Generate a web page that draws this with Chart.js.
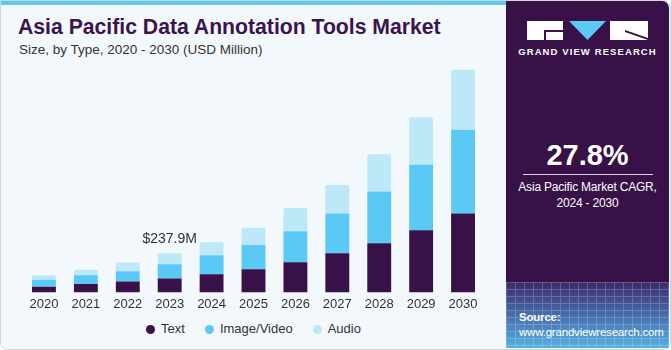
<!DOCTYPE html>
<html>
<head>
<meta charset="utf-8">
<script src="https://cdn.jsdelivr.net/npm/chart.js@4"></script>
<style>
  html, body { margin: 0; padding: 0; }
  body { width: 671px; height: 350px; overflow: hidden; background: #fff; font-family: "Liberation Sans", Arial, sans-serif; }
  .card { position: absolute; left: 0; top: 0; width: 669px; height: 348px; background: #f3f8fc; border: 1px solid #d4d7da; border-radius: 0 8px 8px 8px; overflow: hidden; }
  .strip { position: absolute; left: 0; top: 0; width: 506px; height: 4px; background: #5bc8f5; }
  .title { position: absolute; left: 17px; top: 14px; font-size: 21.2px; font-weight: bold; color: #3a1450; white-space: nowrap; }
  .subtitle { position: absolute; left: 18px; top: 41px; font-size: 13.5px; color: #333; white-space: nowrap; }
  .chartbox { position: absolute; left: 0; top: 57px; width: 500px; height: 262px; }
  .legend { position: absolute; left: 22px; width: 461px; top: 320px; display: flex; justify-content: center; font-size: 13px; color: #333; line-height: 16px; }
  .legend .item { display: flex; align-items: center; margin: 0 10px; }
  .legend .dot { width: 9px; height: 9px; border-radius: 50%; margin-right: 6px; }
  .panel { position: absolute; left: 506px; top: 1px; width: 163px; height: 347px; background: #371147; border-radius: 0 7px 0 0; overflow: hidden; }
  .panel .bottom { position: absolute; left: 0; bottom: 0; width: 100%; height: 66px; background: linear-gradient(#3b2a6a, #4a7ab8 60%, #56b0e0); }
  .grid { position: absolute; left: 0; bottom: 0; width: 100%; height: 66px; opacity: 0.25;
    background-image: linear-gradient(rgba(255,255,255,0.8) 1px, transparent 1px), linear-gradient(90deg, rgba(255,255,255,0.8) 1px, transparent 1px);
    background-size: 9px 7px; }
  .cagr { position: absolute; left: 0; width: 100%; top: 138px; text-align: center; color: #fff; font-size: 29px; font-weight: bold; }
  .rule { position: absolute; left: 17px; width: 130px; top: 173px; height: 1px; background: #d8cfe0; }
  .cagrtxt { position: absolute; left: 0; width: 100%; top: 178px; text-align: center; color: #fff; font-size: 12px; line-height: 16px; letter-spacing: -0.2px; }
  .logo { position: absolute; left: 21px; top: 20px; width: 121px; height: 19px; }
  .brand { position: absolute; left: 0; width: 100%; top: 45px; text-align: center; color: #fff; font-size: 9.5px; font-weight: bold; letter-spacing: 1.1px; }
  .source { position: absolute; left: 13px; top: 309px; color: #fff; font-size: 11.5px; line-height: 15px; letter-spacing: -0.2px; }
  .source b { font-weight: bold; }
</style>
</head>
<body>
<div class="card">
  <div class="strip"></div>
  <div class="title">Asia Pacific Data Annotation Tools Market</div>
  <div class="subtitle">Size, by Type, 2020 - 2030 (USD Million)</div>
  <div class="chartbox"><canvas id="marketChart" width="500" height="262"></canvas></div>
  <div class="legend" id="legend"></div>
</div>
<div class="panel">
  <svg class="logo" viewBox="0 0 121 19">
    <rect x="0" y="0" width="36" height="19" fill="#fff"/>
    <rect x="17" y="9" width="19" height="2" fill="#371147"/>
    <rect x="17" y="9" width="2" height="10" fill="#371147"/>
    <polygon points="42,0 79,0 60.5,19" fill="#5bc8f5"/>
    <rect x="83" y="0" width="38" height="19" fill="#fff"/>
    <polygon points="98,9 121,17 121,19 98,11" fill="#371147"/>
  </svg>
  <div class="brand">GRAND VIEW RESEARCH</div>
  <div class="cagr">27.8%</div>
  <div class="rule"></div>
  <div class="cagrtxt">Asia Pacific Market CAGR,<br>2024 - 2030</div>
  <div class="bottom"></div>
  <div class="grid"></div>
  <div class="source"><b>Source:</b><br>www.grandviewresearch.com</div>
</div>
<script>
(function() {
    "use strict"

    // values (USD Million)
    const years = ["2020", "2021", "2022", "2023", "2024", "2025", "2026", "2027", "2028", "2029", "2030"]
    const textValues = [34.3, 50.4, 66.5, 84.7, 110.9, 141.1, 183.5, 237.9, 298.4, 377.0, 479.8]
    const imageVideoValues = [42.3, 54.4, 62.5, 86.7, 114.9, 147.2, 187.5, 241.9, 314.5, 399.2, 508.1]
    const audioValues = [28.2, 32.3, 52.4, 66.5, 78.6, 104.8, 141.1, 173.4, 225.8, 288.3, 364.9]
    const seriesNames = ["Text", "Image/Video", "Audio"]
    const seriesColors = ["#371147", "#5bc9f5", "#bde8f8"]
    const labelYear = "2023"
    const labelText = "$237.9M"

    const totalLabel = {
        id: 'totalLabel',
        afterDatasetsDraw: (chart) => {
            const idx = years.indexOf(labelYear)
            const total = textValues[idx] + imageVideoValues[idx] + audioValues[idx]
            const x = chart.scales.x.getPixelForValue(idx)
            const y = chart.scales.y.getPixelForValue(total)
            const ctx = chart.ctx
            ctx.save()
            ctx.font = '14px "Liberation Sans", Arial, sans-serif'
            ctx.fillStyle = '#333'
            ctx.textAlign = 'center'
            ctx.textBaseline = 'middle'
            ctx.fillText(labelText, x, y - 14)
            ctx.restore()
        }
    }

    const ctx = document.getElementById("marketChart")
    const chart = new Chart(ctx, {
        type: 'bar',
        data: {
            labels: years,
            datasets: [textValues, imageVideoValues, audioValues].map((vals, i) => ({
                label: seriesNames[i],
                data: vals,
                backgroundColor: seriesColors[i],
                borderWidth: 0,
                borderRadius: i === 2 ? { topLeft: 2, topRight: 2 } : 0,
                borderSkipped: false,
                barPercentage: 1,
                categoryPercentage: 0.57
            }))
        },
        options: {
            responsive: false,
            animation: false,
            layout: { padding: { left: 22, right: 17, top: 4, bottom: 4 } },
            plugins: {
                tooltip: { enabled: false },
                legend: { display: false }
            },
            scales: {
                x: {
                    stacked: true,
                    grid: { display: false, drawTicks: false },
                    border: { display: false },
                    ticks: {
                        padding: 4,
                        color: '#333',
                        font: { family: '"Liberation Sans", Arial, sans-serif', size: 13 }
                    }
                },
                y: {
                    stacked: true,
                    display: false,
                    min: 0,
                    max: 1400
                }
            }
        },
        plugins: [totalLabel]
    })

    // legend from the chart's own datasets
    const legendEl = document.getElementById("legend")
    chart.data.datasets.forEach(ds => {
        const item = document.createElement("div")
        item.className = "item"
        const dot = document.createElement("span")
        dot.className = "dot"
        dot.style.background = ds.backgroundColor
        item.appendChild(dot)
        item.appendChild(document.createTextNode(ds.label))
        legendEl.appendChild(item)
    })
})()
</script>
</body>
</html>
